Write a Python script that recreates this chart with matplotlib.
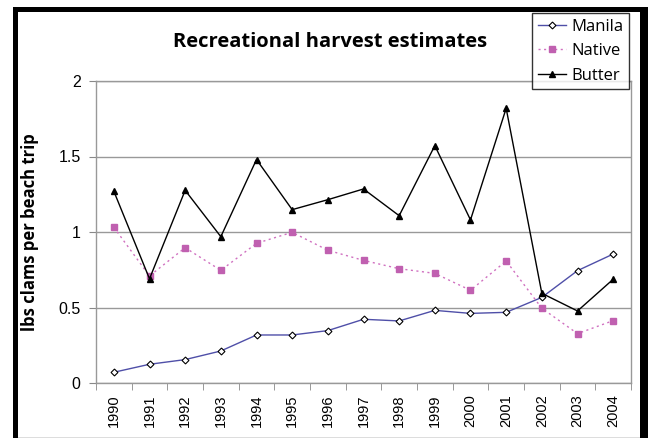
import matplotlib
matplotlib.use("Agg")
import matplotlib.pyplot as plt
from matplotlib.patches import Rectangle

years = ["1990", "1991", "1992", "1993", "1994", "1995", "1996", "1997",
         "1998", "1999", "2000", "2001", "2002", "2003", "2004"]
manila = [0.071, 0.124, 0.155, 0.212, 0.318, 0.318, 0.347, 0.422,
          0.411, 0.481, 0.461, 0.468, 0.567, 0.744, 0.854]
native = [1.031, 0.709, 0.896, 0.746, 0.925, 0.998, 0.879, 0.812,
          0.757, 0.726, 0.614, 0.808, 0.495, 0.327, 0.413]
butter = [1.27, 0.69, 1.276, 0.969, 1.48, 1.148, 1.214, 1.285,
          1.108, 1.572, 1.08, 1.819, 0.594, 0.477, 0.687]
yticks = [0, 0.5, 1, 1.5, 2]
yticklabels = ["0", "0.5", "1", "1.5", "2"]

W, H = 648, 438
fig = plt.figure(figsize=(W / 100, H / 100), dpi=100)
fig.patch.set_facecolor("white")

ax = fig.add_axes([96 / W, 1 - 383 / H, (631 - 96) / W, (383 - 81) / H])
x = list(range(len(years)))

ax.plot(x, manila, color="#4F4FA8", lw=1.0, marker="D", ms=3.5,
        mfc="white", mec="black", mew=0.8, label="Manila", zorder=3)
ax.plot(x, native, color="#D070C0", lw=1.0, ls=(0, (1.5, 2.5)), marker="s", ms=5,
        mfc="#C060B0", mec="#C060B0", label="Native", zorder=3)
ax.plot(x, butter, color="black", lw=1.0, marker="^", ms=5,
        mfc="black", mec="black", label="Butter", zorder=4)

ax.set_xlim(-0.5, len(years) - 0.5)
ax.set_ylim(0, 2)
ax.set_yticks(yticks)
ax.set_yticklabels(yticklabels, fontsize=11.5, family="Liberation Sans")
ax.set_xticks(x)
ax.set_xticklabels(years, rotation=90, fontsize=10.5, family="Liberation Sans")
ax.set_xticks([i - 0.5 for i in range(len(years) + 1)], minor=True)
ax.tick_params(axis="x", which="major", length=0, pad=8)
ax.tick_params(axis="x", which="minor", length=5, color="#888888")
ax.tick_params(axis="y", length=5, color="#888888", pad=6)
ax.yaxis.grid(True, color="#999999", lw=1.0)
ax.set_axisbelow(True)
for s in ax.spines.values():
    s.set_color("#999999")
    s.set_linewidth(1.0)

ax.set_ylabel("lbs clams per beach trip", fontsize=12, fontweight="bold",
              family="Open Sans", labelpad=14)
fig.text(330 / W, 1 - 42 / H, "Recreational harvest estimates", ha="center",
         va="center", fontsize=14.5, fontweight="bold", family="Open Sans")

leg = fig.legend(loc="upper left", bbox_to_anchor=(532 / W, 1 - 13 / H),
                 frameon=True, fancybox=False, prop={"family": "Open Sans", "size": 12},
                 handlelength=1.7, handletextpad=0.3, borderpad=0.35,
                 labelspacing=0.5, borderaxespad=0)
leg.get_frame().set_edgecolor("black")
leg.get_frame().set_linewidth(1.0)

# outer black frame
fig.add_artist(Rectangle((13 / W, 0), 5 / W, 1 - 7 / H, transform=fig.transFigure,
                         color="black", lw=0))
fig.add_artist(Rectangle((13 / W, 1 - 12 / H), (W - 13) / W, 5 / H,
                         transform=fig.transFigure, color="black", lw=0))
fig.add_artist(Rectangle((640 / W, 0), 8 / W, 1 - 7 / H, transform=fig.transFigure,
                         color="black", lw=0))
fig.add_artist(Rectangle((18 / W, 0), (640 - 18) / W, 1.2 / H,
                         transform=fig.transFigure, color="#DDDDDD", lw=0))

fig.savefig("out.png", dpi=100)
